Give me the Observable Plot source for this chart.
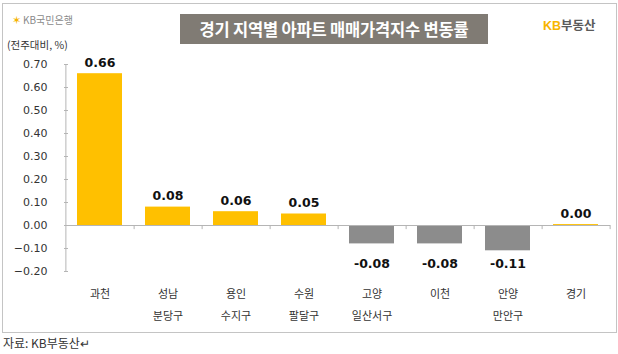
<!DOCTYPE html>
<html>
<head>
<meta charset="utf-8">
<script src="https://cdn.jsdelivr.net/npm/d3@7"></script>
<script src="https://cdn.jsdelivr.net/npm/@observablehq/plot@0.6"></script>
<style>
  html, body { margin: 0; padding: 0; background: #fff; }
  body { width: 618px; height: 354px; position: relative; overflow: hidden; font-family: "Noto Sans CJK KR", sans-serif; }
  #box { position: absolute; left: 2px; top: 3px; width: 613px; height: 328px; border: 1px solid #c4c4c4; }
  #chart { position: absolute; left: 0; top: 0; }
  .abs { position: absolute; white-space: nowrap; }
  #kbbank { left: 12px; top: 11px; font-size: 10px; color: #8a8a8a; line-height: 16px; }
  #kbbank .star { color: #f5b400; font-size: 11px; margin-right: 2px; }
  #title { left: 180px; top: 14px; width: 308px; height: 30px; background: #807b74; color: #fff; font-weight: bold; font-size: 16.5px; line-height: 30px; text-align: center; letter-spacing: -0.2px; }
  #kbland { left: 543px; top: 16px; font-size: 12.5px; font-weight: bold; color: #5a5a5a; line-height: 18px; }
  #kbland .kb { color: #f7b500; font-family: "Liberation Sans", sans-serif; }
  #unit { left: 7px; top: 37px; font-size: 10.5px; color: #333; line-height: 16px; }
  #caption { left: 3px; top: 335px; font-size: 12px; color: #333; line-height: 16px; }
</style>
</head>
<body>
<div id="box"></div>
<div id="chart"></div>
<div class="abs" id="kbbank"><span class="star">✶</span>KB국민은행</div>
<div class="abs" id="title">경기 지역별 아파트 매매가격지수 변동률</div>
<div class="abs" id="kbland"><span class="kb">KB</span>부동산</div>
<div class="abs" id="unit">(전주대비, %)</div>
<div class="abs" id="caption">자료: KB부동산↵</div>
<script>
const categories = ["과천", "성남 분당구", "용인 수지구", "수원 팔달구", "고양 일산서구", "이천", "안양 만안구", "경기"];
const categoryLabels = ["과천", "성남\n분당구", "용인\n수지구", "수원\n팔달구", "고양\n일산서구", "이천", "안양\n만안구", "경기"];
const values = [0.66, 0.08, 0.06, 0.05, -0.08, -0.08, -0.11, 0.004];
const yTicks = [-0.2, -0.1, 0.0, 0.1, 0.2, 0.3, 0.4, 0.5, 0.6, 0.7];

const data = categories.map((c, i) => ({c, label: categoryLabels[i], v: values[i]}));
const negMin = d3.min(values);

const W = 618, H = 335, mL = 64, mR = 8, mT = 64, mB = 64;
const step = (W - mL - mR) / categories.length;

const chart = Plot.plot({
  width: W,
  height: H,
  marginLeft: mL,
  marginRight: mR,
  marginTop: mT,
  marginBottom: mB,
  style: {background: "transparent", overflow: "visible"},
  x: {domain: categories, paddingInner: 0.34, paddingOuter: 0.17, axis: null},
  y: {domain: [-0.2, 0.7], axis: null, label: null},
  marks: [
    Plot.axisY(yTicks, {anchor: "left", label: null, tickSize: 0, tickPadding: 17, tickFormat: d3.format(".2f"),
      fontSize: 11, fontFamily: "DejaVu Sans", fill: "#333"}),
    Plot.axisY(yTicks, {anchor: "left", label: null, tickSize: 4, dx: 4, tickFormat: () => "", stroke: "#b5b5b5"}),
    Plot.ruleX([categories[0]], {x: d => d, y1: -0.2, y2: 0.7, dx: -step / 2, stroke: "#b5b5b5"}),
    Plot.barY(data, {x: "c", y: "v", fill: d => d.v >= 0 ? "#FFC000" : "#8C8C8C"}),
    Plot.ruleY([0], {stroke: "#b5b5b5"}),
    Plot.ruleX(categories, {x: d => d, y1: 0, y2: -0.018, dx: step / 2, stroke: "#b5b5b5"}),
    Plot.text(data.filter(d => d.v >= 0), {x: "c", y: "v", text: d => d.v.toFixed(2), lineAnchor: "bottom", dy: -7,
      fontSize: 12.5, fontWeight: "bold", fontFamily: "DejaVu Sans", fill: "#111"}),
    Plot.text(data.filter(d => d.v < 0), {x: "c", y: () => negMin, text: d => d.v.toFixed(2), lineAnchor: "top", dy: 8,
      fontSize: 12.5, fontWeight: "bold", fontFamily: "DejaVu Sans", fill: "#111"}),
    Plot.text(data, {x: "c", frameAnchor: "bottom", text: "label", lineAnchor: "top", dy: 10, lineHeight: 2.05,
      fontSize: 11, fontFamily: "Noto Sans CJK KR", fill: "#333"})
  ]
});
document.getElementById("chart").appendChild(chart);
</script>
</body>
</html>
